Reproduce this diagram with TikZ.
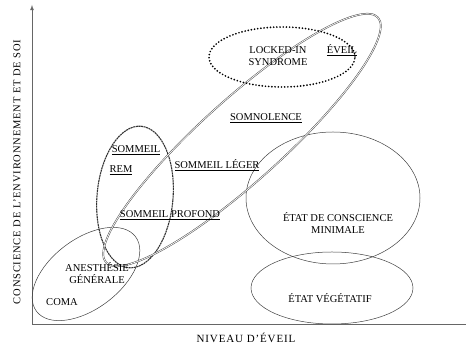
\documentclass[tikz,border=0pt]{standalone}
\usepackage{fontspec}
\setmainfont{Liberation Serif}
\begin{document}
\begin{tikzpicture}[x=1pt, y=1pt,
    lbl/.style={font=\fontsize{10.5}{12}\selectfont, inner sep=1pt, align=center},
    axislbl/.style={font=\fontsize{10.5}{12}\selectfont, inner sep=0pt},
    zone/.style={draw=black!75, line width=0.5pt}]

        \useasboundingbox (0,0) rectangle (467,347);

        \coordinate (origin) at (32,23);
        \coordinate (ytop) at (32,342);
        \coordinate (xend) at (466,23);
        \draw[black!60, line width=0.8pt] (origin) -- (xend);
        \draw[black!60, line width=0.8pt, -latex] (origin) -- (ytop);

        \draw[zone] (86,73) ellipse [x radius=62, y radius=35, rotate=37];
        \draw[zone] (333,149) ellipse [x radius=87, y radius=66];
        \draw[zone] (332,59) ellipse [x radius=81, y radius=36];
        \draw[black!80, line width=1.1pt, dash pattern=on 2pt off 0.6pt] (135,150) ellipse [x radius=38, y radius=71, rotate=-5];
        \draw[black!70, double=white, double distance=0.7pt, line width=0.5pt] (242,207) ellipse [x radius=183, y radius=41, rotate=42];
        \draw[black, line width=1.9pt, dash pattern=on 0pt off 3.2pt, line cap=round] (282,290) ellipse [x radius=73, y radius=30];

        \node[lbl] (locked) at (278,291) {LOCKED-IN\\SYNDROME};
        \node[lbl] (eveil) at (342,297) {\underline{ÉVEIL}};
        \node[lbl] (somno) at (266,229) {\underline{SOMNOLENCE}};
        \node[lbl] (leger) at (217,182) {\underline{SOMMEIL LÉGER}};
        \node[lbl] (sommeil) at (136,197) {\underline{SOMMEIL}};
        \node[lbl] (rem) at (121,177) {\underline{REM}};
        \node[lbl] (profond) at (170,132) {\underline{SOMMEIL PROFOND}};
        \node[lbl] (anesth) at (97,74) {ANESTHÉSIE\\GÉNÉRALE};
        \node[lbl] (coma) at (62,45) {COMA};
        \node[lbl] (minimal) at (338,124) {ÉTAT DE CONSCIENCE\\MINIMALE};
        \node[lbl] (vegetatif) at (330,49) {ÉTAT VÉGÉTATIF};

        \node[axislbl, font=\fontsize{11}{12}\selectfont] (xlabel) at (246,9) {\addfontfeature{LetterSpace=8}NIVEAU D'ÉVEIL};
        \node[axislbl, rotate=90] (ylabel) at (17,175) {\addfontfeature{LetterSpace=8}CONSCIENCE DE L'ENVIRONNEMENT ET DE SOI};

\end{tikzpicture}
\end{document}
